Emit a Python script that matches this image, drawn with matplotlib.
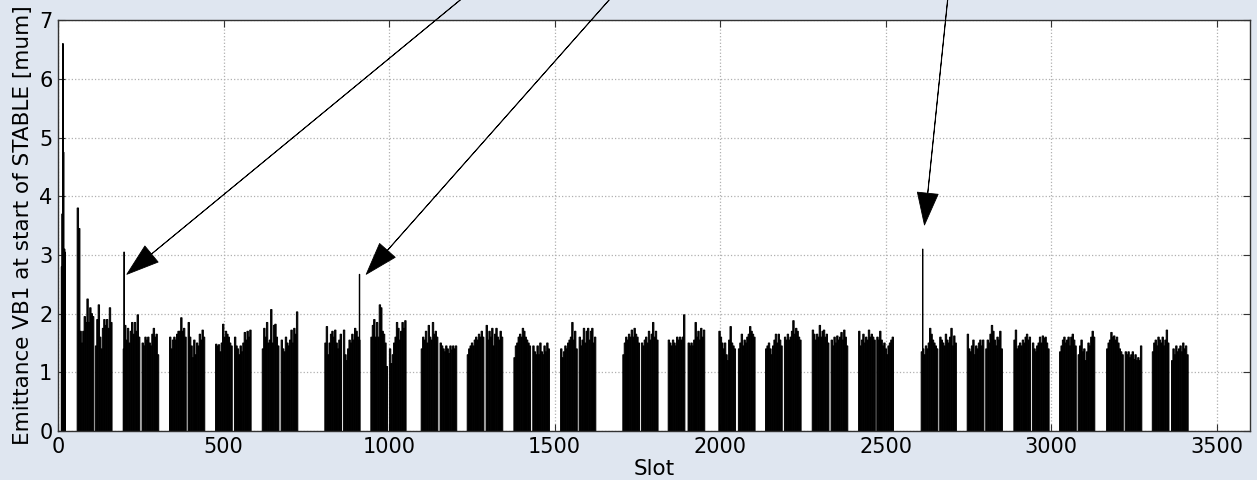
import numpy as np
import matplotlib
matplotlib.use('Agg')
import matplotlib.pyplot as plt

# first (pilot) batch, one value per slot
first_batch_slots = list(range(10, 22))
first_batch_vals = [2.8, 2.8, 3.7, 2.8, 6.6, 6.6, 4.75, 4.75, 3.1, 3.1, 3.1, 3.05]

# isolated high bunches pointed at by the arrows
spike_slots = [199, 910, 2611]
spike_vals = [3.05, 2.67, 3.1]

# start slot of each 48-bunch block, and emittance averaged over groups of slots
block_start = [58, 113, 197, 254, 337, 393, 476, 533, 617, 674,
               806, 862, 945, 1001, 1097, 1154, 1236, 1293, 1377, 1434,
               1518, 1574, 1706, 1762, 1843, 1903, 1996, 2055, 2137, 2194,
               2278, 2335, 2418, 2473, 2607, 2663, 2746, 2802, 2887, 2943,
               3025, 3081, 3167, 3223, 3305, 3363]
block_emittance = [
    [3.8, 3.45, 1.7, 1.5, 1.7, 1.95, 1.85, 2.25, 1.85, 2.1, 2.0, 1.95],
    [1.45, 1.9, 2.15, 1.6, 1.4, 1.75, 1.9, 1.8, 1.9, 1.75, 2.1, 1.85],
    [1.4, 1.8, 1.55, 1.75, 1.5, 1.7, 1.85, 1.65, 1.85, 1.7, 1.98, 1.6],
    [1.5, 1.45, 1.6, 1.55, 1.6, 1.5, 1.45, 1.65, 1.75, 1.6, 1.65, 1.3],
    [1.6, 1.4, 1.55, 1.6, 1.55, 1.65, 1.7, 1.7, 1.93, 1.7, 1.75, 1.6],
    [1.85, 1.6, 1.45, 1.25, 1.55, 1.3, 1.5, 1.45, 1.65, 1.55, 1.72, 1.6],
    [1.48, 1.45, 1.47, 1.35, 1.5, 1.82, 1.6, 1.7, 1.65, 1.6, 1.5, 1.45],
    [1.6, 1.45, 1.4, 1.3, 1.45, 1.35, 1.5, 1.68, 1.55, 1.7, 1.6, 1.72],
    [1.4, 1.75, 1.6, 1.85, 1.5, 1.55, 2.07, 1.5, 1.8, 1.82, 1.6, 1.45],
    [1.55, 1.4, 1.35, 1.6, 1.5, 1.45, 1.55, 1.72, 1.5, 1.75, 1.65, 2.03],
    [1.5, 1.78, 1.3, 1.5, 1.65, 1.7, 1.6, 1.72, 1.5, 1.4, 1.55, 1.65],
    [1.72, 1.3, 1.2, 1.4, 1.55, 1.5, 1.65, 1.55, 1.75, 1.7, 1.6, 1.55],
    [1.6, 1.8, 1.9, 1.6, 1.85, 1.6, 2.15, 2.1, 1.7, 1.65, 1.5, 1.1],
    [1.4, 1.15, 1.3, 1.5, 1.6, 1.85, 1.75, 1.55, 1.7, 1.85, 1.75, 1.88],
    [1.4, 1.6, 1.55, 1.7, 1.5, 1.8, 1.6, 1.55, 1.85, 1.65, 1.7, 1.6],
    [1.5, 1.45, 1.4, 1.35, 1.45, 1.4, 1.32, 1.45, 1.38, 1.45, 1.4, 1.45],
    [1.3, 1.4, 1.45, 1.5, 1.45, 1.55, 1.6, 1.55, 1.65, 1.6, 1.7, 1.6],
    [1.8, 1.55, 1.7, 1.6, 1.75, 1.45, 1.65, 1.75, 1.6, 1.55, 1.7, 1.6],
    [1.25, 1.45, 1.5, 1.6, 1.65, 1.6, 1.75, 1.7, 1.6, 1.55, 1.5, 1.45],
    [1.45, 1.35, 1.3, 1.45, 1.3, 1.5, 1.35, 1.3, 1.45, 1.35, 1.5, 1.4],
    [1.4, 1.25, 1.35, 1.45, 1.4, 1.5, 1.55, 1.6, 1.85, 1.55, 1.7, 1.4],
    [1.6, 1.45, 1.55, 1.75, 1.5, 1.7, 1.75, 1.55, 1.7, 1.75, 1.5, 1.6],
    [1.3, 1.5, 1.6, 1.55, 1.65, 1.6, 1.72, 1.6, 1.75, 1.65, 1.6, 1.5],
    [1.5, 1.45, 1.55, 1.6, 1.5, 1.7, 1.55, 1.65, 1.85, 1.6, 1.7, 1.55],
    [1.55, 1.5, 1.45, 1.55, 1.5, 1.45, 1.6, 1.55, 1.6, 1.55, 1.6, 1.98],
    [1.5, 1.45, 1.5, 1.45, 1.55, 1.85, 1.6, 1.7, 1.55, 1.75, 1.6, 1.72],
    [1.7, 1.6, 1.5, 1.4, 1.5, 1.3, 1.2, 1.55, 1.78, 1.5, 1.45, 1.4],
    [1.4, 1.5, 1.65, 1.45, 1.55, 1.5, 1.6, 1.65, 1.78, 1.7, 1.65, 1.6],
    [1.4, 1.45, 1.5, 1.4, 1.3, 1.45, 1.55, 1.65, 1.5, 1.65, 1.55, 1.45],
    [1.6, 1.55, 1.65, 1.55, 1.6, 1.7, 1.88, 1.65, 1.75, 1.7, 1.6, 1.55],
    [1.72, 1.65, 1.55, 1.65, 1.6, 1.8, 1.6, 1.7, 1.72, 1.6, 1.65, 1.5],
    [1.55, 1.45, 1.6, 1.5, 1.62, 1.55, 1.6, 1.68, 1.55, 1.72, 1.6, 1.45],
    [1.7, 1.45, 1.55, 1.65, 1.5, 1.6, 1.55, 1.72, 1.6, 1.65, 1.6, 1.55],
    [1.6, 1.55, 1.7, 1.55, 1.45, 1.5, 1.4, 1.3, 1.45, 1.5, 1.55, 1.6],
    [1.35, 1.4, 1.3, 1.45, 1.4, 1.5, 1.75, 1.65, 1.55, 1.5, 1.45, 1.4],
    [1.6, 1.55, 1.5, 1.45, 1.65, 1.55, 1.5, 1.6, 1.75, 1.45, 1.62, 1.5],
    [1.65, 1.4, 1.35, 1.45, 1.55, 1.3, 1.45, 1.4, 1.5, 1.55, 1.45, 1.55],
    [1.4, 1.55, 1.5, 1.65, 1.8, 1.7, 1.55, 1.45, 1.6, 1.55, 1.7, 1.4],
    [1.55, 1.72, 1.4, 1.45, 1.5, 1.45, 1.55, 1.5, 1.6, 1.65, 1.55, 1.6],
    [1.5, 1.4, 1.35, 1.45, 1.5, 1.6, 1.5, 1.62, 1.58, 1.6, 1.5, 1.4],
    [1.35, 1.45, 1.55, 1.6, 1.5, 1.55, 1.6, 1.45, 1.6, 1.65, 1.55, 1.45],
    [1.3, 1.45, 1.55, 1.35, 1.4, 1.2, 1.35, 1.5, 1.45, 1.6, 1.7, 1.6],
    [1.4, 1.5, 1.55, 1.68, 1.6, 1.62, 1.55, 1.6, 1.5, 1.4, 1.35, 1.3],
    [1.35, 1.3, 1.35, 1.25, 1.3, 1.35, 1.22, 1.3, 1.2, 1.25, 1.2, 1.45],
    [1.35, 1.5, 1.55, 1.45, 1.6, 1.55, 1.5, 1.6, 1.45, 1.55, 1.72, 1.5],
    [1.2, 1.4, 1.3, 1.45, 1.35, 1.4, 1.45, 1.35, 1.5, 1.4, 1.45, 1.3],
]
GROUP = 4.2  # slots per value in block_emittance

# arrow tips (data coords) and tail points above the axes
arrow_tips = [(208, 2.67), (931, 2.67), (2617, 3.51)]
arrow_tails = [(1464, 8.5), (1846, 8.5), (2708, 8.5)]

BG = '#dfe6f0'
plt.rcParams['font.family'] = 'DejaVu Sans'

fig = plt.figure(figsize=(12.57, 4.8), dpi=100, facecolor=BG)
ax = fig.add_axes([0.0461, 0.102, 0.9483, 0.856])
ax.set_facecolor('white')

bar_kw = dict(align='edge', color='black', edgecolor='black',
              linewidth=0.7, snap=False)
ax.bar(first_batch_slots, first_batch_vals, width=1.0, **bar_kw)
for start, vals in zip(block_start, block_emittance):
    x = start + GROUP * np.arange(len(vals))
    ax.bar(x, vals, width=GROUP, **bar_kw)
ax.bar(spike_slots, spike_vals, width=1.5, **bar_kw)

for tip, tail in zip(arrow_tips, arrow_tails):
    ax.annotate('', xy=tip, xytext=tail, annotation_clip=False,
                arrowprops=dict(facecolor='black', edgecolor='black',
                                width=0.2, headwidth=15, headlength=23,
                                shrink=0.0, linewidth=0.6))

ax.set_xlim(0, 3600)
ax.set_ylim(0, 7)
ax.set_xticks(np.arange(0, 3501, 500))
ax.set_yticks(np.arange(0, 8, 1))
ax.grid(True, color='#b0b0b0', linestyle=':', linewidth=0.9)
ax.set_axisbelow(True)
ax.tick_params(direction='in', top=True, right=True, length=5,
               labelsize=15, pad=4, colors='#333333', labelcolor='black')
for sp in ax.spines.values():
    sp.set_color('#333333')
    sp.set_linewidth(1.0)

ax.set_xlabel('Slot', fontsize=15.5, labelpad=2)
ax.set_ylabel('Emittance VB1 at start of STABLE [mum]', fontsize=15.5, labelpad=4)

fig.savefig('out.png', dpi=100, facecolor=BG)
